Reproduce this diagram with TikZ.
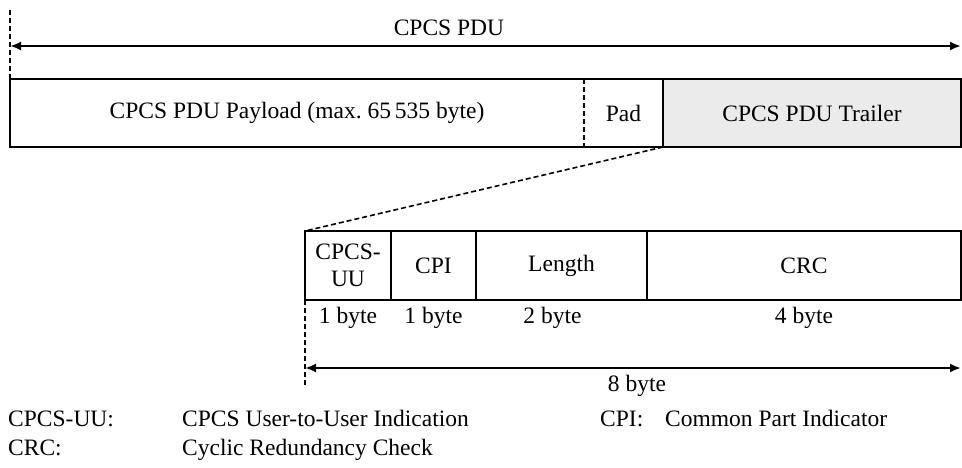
\documentclass[tikz,border=0pt]{standalone}
\usepackage{fontspec}
\setmainfont{Liberation Serif}
\usetikzlibrary{arrows.meta,positioning}
\definecolor{trailergray}{RGB}{235,235,235}
\begin{document}
\begin{tikzpicture}[x=1pt, y=-1pt, font=\fontsize{23.5}{27}\selectfont,
	field/.style={draw, line width=1.5pt, inner sep=0pt, outer sep=0pt, minimum height=69pt, align=center},
	blank/.style={inner sep=0pt, outer sep=0pt, minimum height=68pt},
	dim/.style={{Latex[length=11pt,width=9pt]}-{Latex[length=11pt,width=9pt]}, line width=2.5pt},
	guide/.style={line width=1.6pt, dash pattern=on 5pt off 3pt},
	key/.style={anchor=base west, inner sep=0pt}]
	\useasboundingbox (0,0) rectangle (962,467);
	% CPCS PDU
	\node[blank, minimum width=574pt] (payload) at (297,113) {CPCS PDU Payload (max.\ 65\,535 byte)};
	\node[blank, minimum width=79pt, right=0pt of payload] (pad) {Pad};
	\node[field, minimum width=298pt, minimum height=68pt, fill=trailergray, right=0pt of pad] (trailer) {CPCS PDU Trailer};
	\draw[line width=1.5pt] (trailer.north west) -- (payload.north west) -- (payload.south west) -- (trailer.south west);
	\draw[guide] (pad.north west) -- (pad.south west);
	\coordinate (pdutop) at (10,10);
	\coordinate (pduleft) at (10,46);
	\coordinate (pduright) at (961,46);
	\draw[guide] (pdutop) -- (payload.north west);
	\draw[dim] (pduleft) -- (pduright);
	\node (pdulabel) at (449,28) {CPCS PDU};
	% trailer fields
	\node[field, minimum width=86pt] (uu) at (348,265.5) {CPCS-\\UU};
	\node[field, minimum width=85pt, right=0pt of uu] (cpi) {CPI};
	\node[field, minimum width=171pt, right=0pt of cpi] (len) {Length};
	\node[field, minimum width=314pt, right=0pt of len] (crc) {CRC};
	\draw[guide] (trailer.south west) -- (uu.north west);
	\node (uubytes) at (uu.south |- 0,318) {1 byte};
	\node (cpibytes) at (cpi.south |- 0,318) {1 byte};
	\node[xshift=-9pt] (lenbytes) at (len.south |- 0,318) {2 byte};
	\node (crcbytes) at (crc.south |- 0,318) {4 byte};
	\coordinate (eightleft) at (305,368);
	\coordinate (eightright) at (961,368);
	\coordinate (eightbottom) at (305,385);
	\draw[guide] (uu.south west) -- (eightbottom);
	\draw[dim] (eightleft) -- (eightright);
	\node (eightlabel) at (637,386) {8 byte};
	% legend
	\node[key] (uukey) at (8,426) {CPCS-UU:};
	\node[key] (uutext) at (182,426) {CPCS User-to-User Indication};
	\node[key] (cpikey) at (600,426) {CPI:};
	\node[key] (cpitext) at (665,426) {Common Part Indicator};
	\node[key] (crckey) at (8,455) {CRC:};
	\node[key] (crctext) at (182,455) {Cyclic Redundancy Check};
\end{tikzpicture}
\end{document}
